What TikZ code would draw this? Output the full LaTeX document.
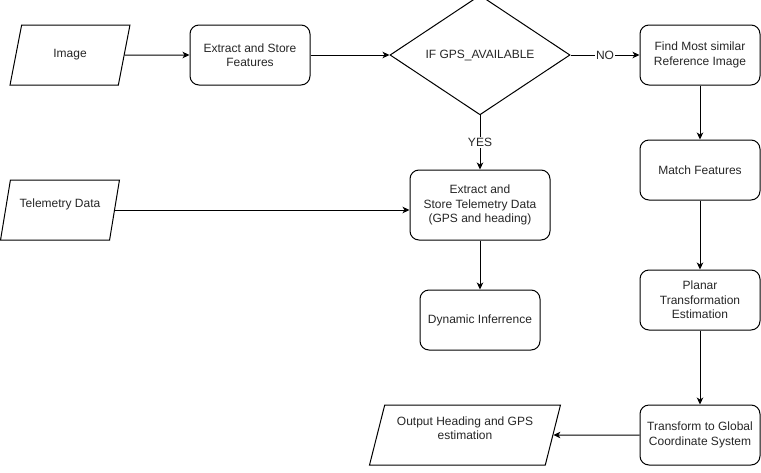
\documentclass[tikz,border=0pt]{standalone}
\usepackage{fontspec}
\setmainfont{Liberation Sans}
\usetikzlibrary{shapes.geometric,arrows.meta}

\begin{document}
\begin{tikzpicture}[x=1pt,y=-1pt,
  font=\fontsize{12}{14.5}\selectfont, line width=1pt, text=black!85,
  proc/.style={draw=black, rounded corners=9pt, minimum width=120pt, minimum height=60pt, align=center, inner sep=2pt},
  io/.style={draw=black, trapezium, trapezium left angle=71.57, trapezium right angle=108.43, trapezium stretches=true, minimum width=#1, minimum height=60pt, align=center, inner sep=1pt},
  io/.default=120pt,
  arr/.style={-{Stealth[length=7pt,width=6.5pt,inset=2pt]}}]

\useasboundingbox (0,0) rectangle (761,472);

\node[io] (img) at (70,55) {Image};
\node[proc] (feat) at (250,55) {Extract and Store\\Features};
\node[draw=black, diamond, minimum width=180pt, minimum height=110pt, inner sep=0pt] (gps) at (480,55) {IF GPS\_AVAILABLE};
\node[proc] (find) at (700,55) {Find Most similar\\Reference Image};
\node[proc] (match) at (700,170) {Match Features};
\node[proc] (planar) at (700,300) {Planar\\Transformation\\Estimation};
\node[proc] (global) at (700,435) {Transform to Global\\Coordinate System};

\node[io, text depth=14pt] (tele) at (60,210) {Telemetry Data};
\node[proc, minimum width=140pt, minimum height=70pt] (store) at (480,205) {Extract and\\Store Telemetry Data\\(GPS and heading)};
\node[proc] (dyn) at (480,320) {Dynamic Inferrence};
\node[io=191pt, text depth=14pt] (out) at (465,435) {Output Heading and GPS\\estimation};

\draw[arr] (img) -- (feat);
\draw[arr] (feat) -- (gps);
\draw[arr] (gps) -- node[fill=white, inner sep=1pt] {NO} (find);
\draw[arr] (gps) -- node[fill=white, inner sep=1pt] {YES} (store);
\draw[arr] (tele.east) -- (tele.east -| store.west);
\draw[arr] (store) -- (dyn);
\foreach \a/\b in {find/match, match/planar, planar/global}{
	\draw[arr] (\a) -- (\b);
}
\draw[arr] (global) -- (out);
\end{tikzpicture}
\end{document}
